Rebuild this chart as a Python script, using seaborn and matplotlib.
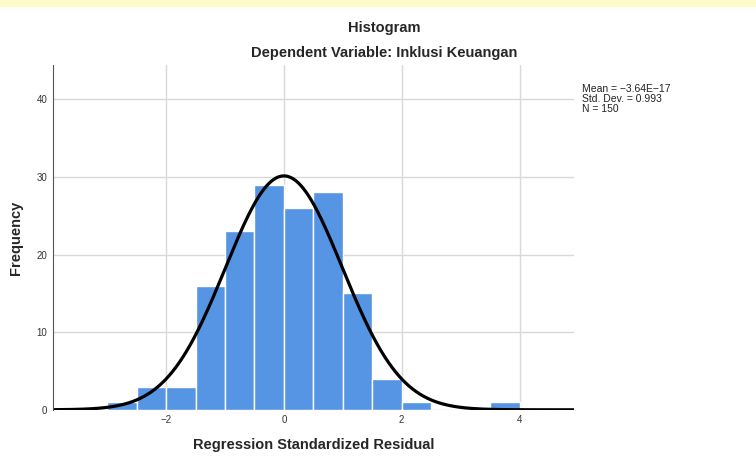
import numpy as np
import pandas as pd
import matplotlib.pyplot as plt
import seaborn as sns

# residual histogram, bins of width 0.5
bin_left = [-3.0, -2.5, -2.0, -1.5, -1.0, -0.5, 0.0, 0.5, 1.0, 1.5, 2.0, 2.5, 3.0, 3.5]
counts = [1, 3, 3, 16, 23, 29, 26, 28, 15, 4, 1, 0, 0, 1]
mean = -3.64e-17
std = 0.993
n = 150
bin_width = 0.5

df = pd.DataFrame({'resid': np.array(bin_left) + bin_width / 2, 'count': counts})
edges = list(bin_left) + [bin_left[-1] + bin_width]

sns.set_style('white')
plt.rcParams['font.family'] = ['Liberation Sans', 'DejaVu Sans']

fig = plt.figure(figsize=(7.56, 4.62), dpi=100)
ax = fig.add_axes([0.070, 0.113, 0.689, 0.746])

# watermark strip at the very top
fig.patches.append(plt.Rectangle((0, 0.986), 1, 0.014, transform=fig.transFigure,
                                 color='#fdfbc8', zorder=0))

ax.set_axisbelow(True)
ax.grid(True, color='#d9d9d9', linewidth=1)
sns.histplot(data=df, x='resid', weights='count', bins=edges, ax=ax,
             color='#5595e3', alpha=1, edgecolor='white', linewidth=1)

xs = np.linspace(-3.92, 4.92, 400)
ys = n * bin_width * np.exp(-0.5 * ((xs - mean) / std) ** 2) / (std * np.sqrt(2 * np.pi))
sns.lineplot(x=xs, y=ys, ax=ax, color='black', linewidth=2.3)

ax.set_xlim(-3.92, 4.92)
ax.set_ylim(0, 44.4)
ax.set_xticks([-2, 0, 2, 4])
ax.set_xticklabels(['\u22122', '0', '2', '4'])
ax.set_yticks([0, 10, 20, 30, 40])
ax.tick_params(labelsize=7, colors='#333333', length=0, pad=4)
for s in ['top', 'right', 'bottom']:
    ax.spines[s].set_visible(False)
ax.spines['left'].set_color('#555555')
ax.spines['left'].set_linewidth(0.8)

ax.set_xlabel('Regression Standardized Residual', fontsize=10.5, fontweight='bold', labelpad=9)
ax.set_ylabel('Frequency', fontsize=10.5, fontweight='bold', labelpad=10)

fig.text(0.508, 0.940, 'Histogram', ha='center', va='center', fontsize=10.5, fontweight='bold')
fig.text(0.508, 0.886, 'Dependent Variable: Inklusi Keuangan', ha='center', va='center',
         fontsize=10.5, fontweight='bold')
fig.text(0.770, 0.786, 'Mean = \u22123.64E\u221217\nStd. Dev. = 0.993\nN = 150',
         ha='left', va='center', fontsize=7.5, linespacing=0.98, color='#222222')

fig.savefig('out.png', dpi=100)
